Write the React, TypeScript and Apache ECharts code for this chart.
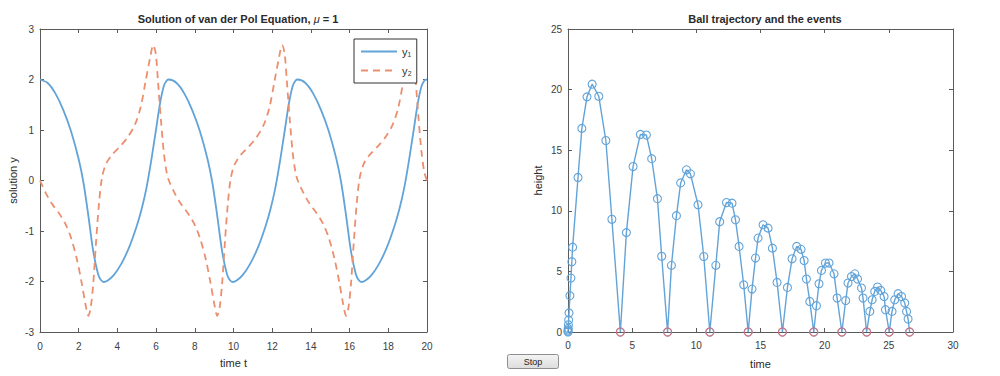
import React, { useEffect, useRef } from 'react';
import * as echarts from 'echarts';

const FONT = "'Liberation Sans', Arial, Helvetica, sans-serif";

// ---- van der Pol, mu = 1 ----
const timeY1 = [
  0.0, 0.4, 0.8, 1.2, 1.6, 2.0, 2.25, 2.5, 2.75, 3.0, 3.15, 3.3, 3.5, 3.8, 4.2, 4.6, 5.0, 5.25, 5.5, 5.75, 6.0, 6.2, 6.4, 6.55, 6.66,
  7.06, 7.46, 7.86, 8.26, 8.66, 8.91, 9.16, 9.41, 9.66, 9.81, 9.96, 10.16, 10.46, 10.86, 11.26, 11.66, 11.91, 12.16, 12.41, 12.66, 12.86, 13.06, 13.21, 13.32,
  13.72, 14.12, 14.52, 14.92, 15.32, 15.57, 15.82, 16.07, 16.32, 16.47, 16.62, 16.82, 17.12, 17.52, 17.92, 18.32, 18.57, 18.82, 19.07, 19.32, 19.52, 19.72, 19.87, 20.0,
];
const valuesY1 = [
  2.0, 1.93, 1.72, 1.4, 0.98, 0.42, -0.05, -0.7, -1.4, -1.85, -1.97, -2.01, -1.98, -1.88, -1.65, -1.33, -0.9, -0.57, -0.15, 0.4, 1.02, 1.52, 1.87, 1.98, 2.0,
  1.93, 1.72, 1.4, 0.98, 0.42, -0.05, -0.7, -1.4, -1.85, -1.97, -2.01, -1.98, -1.88, -1.65, -1.33, -0.9, -0.57, -0.15, 0.4, 1.02, 1.52, 1.87, 1.98, 2.0,
  1.93, 1.72, 1.4, 0.98, 0.42, -0.05, -0.7, -1.4, -1.85, -1.97, -2.01, -1.98, -1.88, -1.65, -1.33, -0.9, -0.57, -0.15, 0.4, 1.02, 1.52, 1.87, 1.98, 2.0,
];
const timeY2 = [
  0.0, 0.3, 0.6, 1.0, 1.3, 1.6, 1.9, 2.15, 2.35, 2.5, 2.62, 2.75, 2.9, 3.05, 3.2, 3.4, 3.7, 4.1, 4.5, 4.9, 5.2, 5.45, 5.7, 5.85, 5.98, 6.1, 6.25, 6.4, 6.55, 6.66,
  6.96, 7.26, 7.66, 7.96, 8.26, 8.56, 8.81, 9.01, 9.16, 9.28, 9.41, 9.56, 9.71, 9.86, 10.06, 10.36, 10.76, 11.16, 11.56, 11.86, 12.11, 12.36, 12.51, 12.64, 12.76, 12.91, 13.06, 13.21, 13.32,
  13.62, 13.92, 14.32, 14.62, 14.92, 15.22, 15.47, 15.67, 15.82, 15.94, 16.07, 16.22, 16.37, 16.52, 16.72, 17.02, 17.42, 17.82, 18.22, 18.52, 18.77, 19.02, 19.17, 19.3, 19.42, 19.57, 19.72, 19.87, 20.0,
];
const valuesY2 = [
  0.0, -0.25, -0.45, -0.66, -0.85, -1.13, -1.55, -2.02, -2.45, -2.68, -2.52, -2.05, -1.2, -0.45, 0.05, 0.32, 0.5, 0.66, 0.84, 1.1, 1.45, 1.95, 2.45, 2.68, 2.52, 1.95, 1.2, 0.55, 0.15, 0.0,
  -0.25, -0.45, -0.66, -0.85, -1.13, -1.55, -2.02, -2.45, -2.68, -2.52, -2.05, -1.2, -0.45, 0.05, 0.32, 0.5, 0.66, 0.84, 1.1, 1.45, 1.95, 2.45, 2.68, 2.52, 1.95, 1.2, 0.55, 0.15, 0.0,
  -0.25, -0.45, -0.66, -0.85, -1.13, -1.55, -2.02, -2.45, -2.68, -2.52, -2.05, -1.2, -0.45, 0.05, 0.32, 0.5, 0.66, 0.84, 1.1, 1.45, 1.95, 2.45, 2.68, 2.52, 1.95, 1.2, 0.55, 0.15, 0.0,
];

// ---- bouncing ball ----
const ballTime = [
  0, 0.003, 0.008, 0.015, 0.03, 0.05, 0.08, 0.15, 0.23, 0.3, 0.36, 0.78, 1.08, 1.48, 1.88, 2.4, 2.95, 3.42, 4.08,
  4.55, 5.07, 5.64, 6.11, 6.52, 6.97, 7.3, 7.76,
  8.06, 8.45, 8.78, 9.23, 9.54, 10.13, 10.58, 11.05,
  11.52, 11.82, 12.35, 12.78, 13.05, 13.33, 13.69, 14.04,
  14.34, 14.61, 14.81, 15.2, 15.59, 15.93, 16.29, 16.71,
  17.1, 17.46, 17.82, 18.16, 18.4, 18.58, 18.84, 19.15,
  19.36, 19.56, 19.75, 20.06, 20.34, 20.73, 20.97, 21.34,
  21.64, 21.82, 22.09, 22.35, 22.56, 22.87, 22.99, 23.27,
  23.52, 23.7, 23.9, 24.12, 24.37, 24.63, 24.74, 25.03,
  25.25, 25.46, 25.72, 25.99, 26.24, 26.38, 26.5, 26.62,
];
const ballHeight = [
  0, 0.06, 0.16, 0.3, 0.6, 1.0, 1.57, 3.0, 4.45, 5.8, 7.0, 12.75, 16.8, 19.4, 20.45, 19.45, 15.8, 9.3, 0,
  8.2, 13.65, 16.3, 16.25, 14.3, 11.0, 6.25, 0,
  5.5, 9.6, 12.3, 13.38, 13.05, 10.5, 6.23, 0,
  5.5, 9.1, 10.68, 10.63, 9.26, 7.06, 3.9, 0,
  3.54, 6.1, 7.75, 8.85, 8.57, 6.92, 4.09, 0,
  3.68, 6.04, 7.06, 6.82, 5.9, 4.37, 2.52, 0,
  2.17, 3.98, 5.08, 5.69, 5.69, 4.8, 2.8, 0,
  2.6, 4.04, 4.58, 4.8, 4.37, 3.63, 2.8, 0,
  1.7, 2.66, 3.35, 3.71, 3.43, 2.93, 1.84, 0,
  1.7, 2.66, 3.16, 2.93, 2.39, 1.7, 1.07, 0,
];
const eventTime = [4.08, 7.76, 11.05, 14.04, 16.71, 19.15, 21.34, 23.27, 25.03, 26.62];
const eventHeight = [0, 0, 0, 0, 0, 0, 0, 0, 0, 0];

const zip = (a: number[], b: number[]) => a.map((v, i) => [v, b[i]]);

const AX = '#5a5a5a';
const LBL = '#3c3c3c';
const BLUE = '#62a3d8';
const ORANGE = '#eb8f6f';
const RED = '#e8676a';

function axis(extra: any) {
  return {
    axisLine: { show: true, onZero: false, lineStyle: { color: AX, width: 1 } },
    axisTick: { show: true, inside: true, length: 4, lineStyle: { color: AX } },
    splitLine: { show: false },
    axisLabel: { color: LBL, fontSize: 10, fontFamily: FONT },
    nameTextStyle: { color: '#2a2a2a', fontSize: 11, fontFamily: FONT },
    ...extra,
  };
}

export default function App() {
  const ref = useRef<HTMLDivElement>(null);
  useEffect(() => {
    const chart = echarts.init(ref.current!, null, { renderer: 'svg' });
    const option: any = {
      animation: false,
      backgroundColor: '#ffffff',
      title: [
        {
          text: 'Solution of van der Pol Equation, {i|μ} = 1',
          left: 233,
          top: 8,
          textAlign: 'center',
          textStyle: {
            fontSize: 11, fontWeight: 'bold', color: '#2a2a2a', fontFamily: FONT,
            rich: { i: { fontSize: 11, fontStyle: 'italic', fontWeight: 'normal', color: '#2a2a2a', fontFamily: FONT } },
          },
        },
        {
          text: 'Ball trajectory and the events',
          left: 760,
          top: 8,
          textAlign: 'center',
          textStyle: { fontSize: 11, fontWeight: 'bold', color: '#2a2a2a', fontFamily: FONT },
        },
      ],
      legend: {
        data: ['y₁', 'y₂'],
        left: 354,
        top: 39,
        orient: 'vertical',
        itemWidth: 36,
        itemHeight: 10,
        itemGap: 8,
        padding: [7, 5, 7, 6],
        borderColor: '#333',
        borderWidth: 1,
        backgroundColor: '#fff',
        itemStyle: { opacity: 0 },
        textStyle: { fontSize: 11, color: '#333', fontFamily: FONT },
      },
      grid: [
        { left: 40, top: 29, width: 387, height: 303 },
        { left: 568, top: 29, width: 385, height: 303 },
      ],
      xAxis: [
        axis({ type: 'value', gridIndex: 0, min: 0, max: 20, interval: 2, position: 'bottom', name: 'time t', nameLocation: 'middle', nameGap: 25, axisLabel: { color: LBL, fontSize: 10, fontFamily: FONT, margin: 9 } }),
        axis({ type: 'value', gridIndex: 0, min: 0, max: 20, interval: 2, position: 'top', axisLabel: { show: false } }),
        axis({ type: 'value', gridIndex: 1, min: 0, max: 30, interval: 5, position: 'bottom', name: 'time', nameLocation: 'middle', nameGap: 26, axisLabel: { color: LBL, fontSize: 10, fontFamily: FONT, margin: 8 } }),
        axis({ type: 'value', gridIndex: 1, min: 0, max: 30, interval: 5, position: 'top', axisLabel: { show: false } }),
      ],
      yAxis: [
        axis({ type: 'value', gridIndex: 0, min: -3, max: 3, interval: 1, position: 'left', name: 'solution y', nameLocation: 'middle', nameGap: 22, axisLabel: { color: LBL, fontSize: 10, fontFamily: FONT, margin: 6 } }),
        axis({ type: 'value', gridIndex: 0, min: -3, max: 3, interval: 1, position: 'right', axisLabel: { show: false } }),
        axis({ type: 'value', gridIndex: 1, min: 0, max: 25, interval: 5, position: 'left', name: 'height', nameLocation: 'middle', nameGap: 25, axisLabel: { color: LBL, fontSize: 10, fontFamily: FONT, margin: 6 } }),
        axis({ type: 'value', gridIndex: 1, min: 0, max: 25, interval: 5, position: 'right', axisLabel: { show: false } }),
      ],
      series: [
        {
          name: 'y₁', type: 'line', xAxisIndex: 0, yAxisIndex: 0, data: zip(timeY1, valuesY1),
          showSymbol: false, symbol: 'none', smooth: 0.3,
          lineStyle: { color: BLUE, width: 1.8 }, itemStyle: { color: BLUE },
        },
        {
          name: 'y₂', type: 'line', xAxisIndex: 0, yAxisIndex: 0, data: zip(timeY2, valuesY2),
          showSymbol: false, symbol: 'none', smooth: 0.3,
          lineStyle: { color: ORANGE, width: 1.8, type: [7, 5] }, itemStyle: { color: ORANGE },
        },
        {
          name: 'ball', type: 'line', xAxisIndex: 2, yAxisIndex: 2, data: zip(ballTime, ballHeight),
          symbol: 'circle', symbolSize: 8, showSymbol: true,
          lineStyle: { color: BLUE, width: 1.4 },
          itemStyle: { color: 'rgba(0,0,0,0)', borderColor: BLUE, borderWidth: 1.1 },
          z: 3,
        },
        {
          name: 'events', type: 'scatter', xAxisIndex: 2, yAxisIndex: 2, data: zip(eventTime, eventHeight),
          symbol: 'circle', symbolSize: 8,
          itemStyle: { color: 'rgba(0,0,0,0)', borderColor: RED, borderWidth: 1.2 },
          z: 4,
        },
      ],
      graphic: [
        {
          type: 'group', left: 507, top: 354,
          children: [
            {
              type: 'rect', shape: { x: 0, y: 0, width: 51, height: 14, r: 2 },
              style: {
                fill: new echarts.graphic.LinearGradient(0, 0, 0, 1, [
                  { offset: 0, color: '#f4f4f4' }, { offset: 1, color: '#dcdcdc' },
                ]),
                stroke: '#8e8e8e', lineWidth: 1,
              },
            },
            {
              type: 'text', x: 25.5, y: 7,
              style: { text: 'Stop', fontSize: 9, fontFamily: FONT, fill: '#222', align: 'center', verticalAlign: 'middle' },
            },
          ],
        },
      ],
    };
    chart.setOption(option);
    return () => chart.dispose();
  }, []);
  return (
    <div
      ref={ref}
      style={{ position: 'absolute', left: 0, top: 0, width: 1000, height: 376, background: '#fff' }}
    />
  );
}
